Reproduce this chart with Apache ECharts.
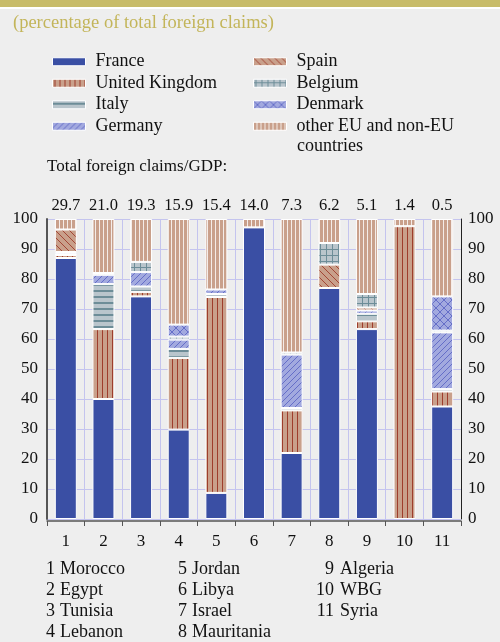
<!DOCTYPE html>
<html>
<head>
<meta charset="utf-8">
<script src="https://cdn.jsdelivr.net/npm/echarts@6/dist/echarts.min.js"></script>
<style>
  html, body { margin: 0; padding: 0; background: #eeeeee; }
  #chart { width: 500px; height: 642px; }
</style>
</head>
<body>
<div id="chart"></div>
<script>
// Country index along the axis and the ratio of total foreign claims to GDP
const categories = ['1', '2', '3', '4', '5', '6', '7', '8', '9', '10', '11'];
const claimsToGdp = ['29.7', '21.0', '19.3', '15.9', '15.4', '14.0', '7.3', '6.2', '5.1', '1.4', '0.5'];
const countryNames = ['Morocco', 'Egypt', 'Tunisia', 'Lebanon', 'Jordan', 'Libya', 'Israel', 'Mauritania', 'Algeria', 'WBG', 'Syria'];

// Share of total foreign claims by creditor country (percent)
const france  = [87.0, 40.0, 74.2, 29.8,  8.7, 97.2, 22.0, 77.0, 63.3,  0.0, 37.5];
const uk      = [ 1.0, 23.3,  1.5, 23.9, 65.3,  0.0, 14.2,  0.0,  2.6, 97.6,  5.0];
const italy   = [ 0.3, 15.0,  1.8,  3.0,  1.0,  0.0,  0.8,  0.0,  2.5,  0.0,  0.8];
const germany = [ 0.7,  3.1,  4.8,  3.1,  1.5,  0.0, 17.8,  0.0,  1.1,  0.0, 18.9];
const spain   = [ 7.5,  0.0,  0.0,  0.0,  0.0,  0.0,  0.0,  7.8,  1.0,  0.0,  0.0];
const belgium = [ 0.0,  0.6,  3.4,  1.0,  0.0,  0.0,  0.7,  7.2,  4.5,  0.0,  0.6];
const denmark = [ 0.0,  0.0,  0.0,  4.0,  0.0,  0.0,  0.0,  0.0,  0.0,  0.0, 11.4];
const other   = [ 3.5, 18.0, 14.3, 35.2, 23.5,  2.8, 44.5,  8.0, 25.0,  2.4, 25.8];

const seriesNames = ['France', 'United Kingdom', 'Italy', 'Germany', 'Spain', 'Belgium', 'Denmark', 'other EU and non-EU countries'];
const seriesValues = [france, uk, italy, germany, spain, belgium, denmark, other];

const FONT = 'Liberation Serif';
const TAN = '#c9a08b';
const DARKRED = '#9e3d2c';
const GREYBLUE = '#b9c5cc';
const TEAL = '#6d8d98';
const LILAC = '#a2a9df';
const INDIGO = '#5560c2';

// Small repeating tiles for hatched fills
function tile(w, h, bg, draw) {
  const c = document.createElement('canvas');
  c.width = w; c.height = h;
  const ctx = c.getContext('2d');
  ctx.fillStyle = bg;
  ctx.fillRect(0, 0, w, h);
  draw(ctx, w, h);
  return { image: c, repeat: 'repeat' };
}
function line(ctx, color, width, pts) {
  ctx.strokeStyle = color; ctx.lineWidth = width;
  ctx.beginPath();
  for (let i = 0; i < pts.length; i += 4) {
    ctx.moveTo(pts[i], pts[i + 1]); ctx.lineTo(pts[i + 2], pts[i + 3]);
  }
  ctx.stroke();
}
const fills = [
  '#3a4fa4',
  tile(5, 4, TAN, (ctx) => { ctx.fillStyle = DARKRED; ctx.fillRect(2, 0, 1, 4); }),
  tile(4, 6, GREYBLUE, (ctx) => { ctx.fillStyle = TEAL; ctx.fillRect(0, 2, 4, 2); }),
  tile(6, 6, LILAC, (ctx) => line(ctx, INDIGO, 0.8, [0, 6, 6, 0, -3, 3, 3, -3, 3, 9, 9, 3])),
  tile(7, 7, TAN, (ctx) => line(ctx, DARKRED, 0.9, [0, 0, 7, 7, -4, 3, 0, 7, 3, -4, 11, 4])),
  tile(6, 6, GREYBLUE, (ctx) => { ctx.fillStyle = TEAL; ctx.fillRect(2, 0, 1, 6); ctx.fillRect(0, 3, 6, 1); }),
  tile(8, 8, LILAC, (ctx) => line(ctx, INDIGO, 0.8, [0, 0, 8, 8, 0, 8, 8, 0])),
  tile(4, 4, TAN, (ctx) => { ctx.fillStyle = '#f4ece8'; ctx.fillRect(3, 0, 1, 4); })
];

const chart = echarts.init(document.getElementById('chart'), null, { renderer: 'canvas' });

const series = seriesNames.map((name, i) => ({
  name,
  type: 'bar',
  stack: 'claims',
  xAxisIndex: 0,
  yAxisIndex: 0,
  barWidth: 22,
  itemStyle: { color: fills[i], borderColor: '#ffffff', borderWidth: 1 },
  emphasis: { disabled: true },
  data: seriesValues[i].map(v => (v === 0 ? '-' : v))
}));

const axisText = { fontFamily: FONT, fontSize: 17, color: '#111' };
const legendText = {
  fontFamily: FONT, fontSize: 18, color: '#111', lineHeight: 21.5,
  padding: [0, 0, 0, 5]
};

// Numbered country key below the plot
const keyFont = '18px "' + FONT + '"';
const keyColumns = [
  { x: 55, gap: 5, items: [0, 1, 2, 3] },
  { x: 187, gap: 5, items: [4, 5, 6, 7] },
  { x: 334, gap: 6, items: [8, 9, 10] }
];
const keyGraphics = [];
keyColumns.forEach(col => {
  col.items.forEach((idx, row) => {
    const y = 569.5 + row * 21;
    keyGraphics.push({
      type: 'text', x: col.x, y,
      style: { text: categories[idx], font: keyFont, fill: '#111', align: 'right', verticalAlign: 'middle' }
    });
    keyGraphics.push({
      type: 'text', x: col.x + col.gap, y,
      style: { text: countryNames[idx], font: keyFont, fill: '#111', align: 'left', verticalAlign: 'middle' }
    });
  });
});

const legendBase = {
  orient: 'vertical', top: 46,
  itemWidth: 33, itemHeight: 8, itemGap: 0,
  icon: 'rect', selectedMode: false,
  itemStyle: { borderColor: '#ffffff', borderWidth: 1 },
  textStyle: legendText
};

chart.setOption({
  backgroundColor: '#eeeeee',
  animation: false,
  textStyle: { fontFamily: FONT },
  title: {
    text: '(percentage of total foreign claims)',
    left: 8, top: 9,
    textStyle: { fontFamily: FONT, fontSize: 18.5, fontWeight: 'normal', color: '#c3b55a' }
  },
  legend: [
    Object.assign({ data: seriesNames.slice(0, 4), left: 47 }, legendBase),
    Object.assign({
      data: seriesNames.slice(4), left: 248,
      formatter: n => n.replace(' countries', '')
    }, legendBase)
  ],
  grid: { left: 47, right: 39, top: 219, bottom: 123, containLabel: false },
  xAxis: [
    {
      type: 'category', data: categories, position: 'bottom',
      axisLine: { show: true, onZero: false, lineStyle: { color: '#555', width: 1.5 } },
      offset: 2,
      axisTick: { show: true, length: 5, inside: false, lineStyle: { color: '#555' } },
      axisLabel: Object.assign({ margin: 12, interval: 0 }, axisText),
      splitLine: { show: true, lineStyle: { color: '#c4c4ee', width: 1 } }
    },
    {
      type: 'category', data: claimsToGdp, position: 'top',
      axisLine: { show: false }, axisTick: { show: false },
      axisLabel: Object.assign({ margin: 5, interval: 0 }, axisText, { fontSize: 16.5 }),
      splitLine: { show: false }
    }
  ],
  yAxis: [
    {
      type: 'value', min: 0, max: 100, interval: 10, position: 'left',
      axisLine: { show: true, lineStyle: { color: '#555', width: 2 } },
      axisTick: { show: false },
      axisLabel: Object.assign({ margin: 9 }, axisText),
      splitLine: { show: true, lineStyle: { color: '#c4c4ee', width: 1 } }
    },
    {
      type: 'value', min: 0, max: 100, interval: 10, position: 'right',
      axisLine: { show: true, lineStyle: { color: '#222', width: 1 } },
      axisTick: { show: false },
      axisLabel: Object.assign({ margin: 7 }, axisText),
      splitLine: { show: false }
    }
  ],
  series,
  graphic: [
    { type: 'rect', shape: { x: 0, y: 0, width: 500, height: 7 }, style: { fill: '#c8bc69' }, silent: true },
    { type: 'rect', shape: { x: 0, y: 7, width: 500, height: 2 }, style: { fill: '#ffffff' }, silent: true },
    {
      type: 'text', x: 297, y: 146,
      style: { text: 'countries', font: '18px "' + FONT + '"', fill: '#111', verticalAlign: 'middle' }
    },
    {
      type: 'text', x: 47, y: 167,
      style: { text: 'Total foreign claims/GDP:', font: '17px "' + FONT + '"', fill: '#111', verticalAlign: 'middle' }
    }
  ].concat(keyGraphics)
});
</script>
</body>
</html>
